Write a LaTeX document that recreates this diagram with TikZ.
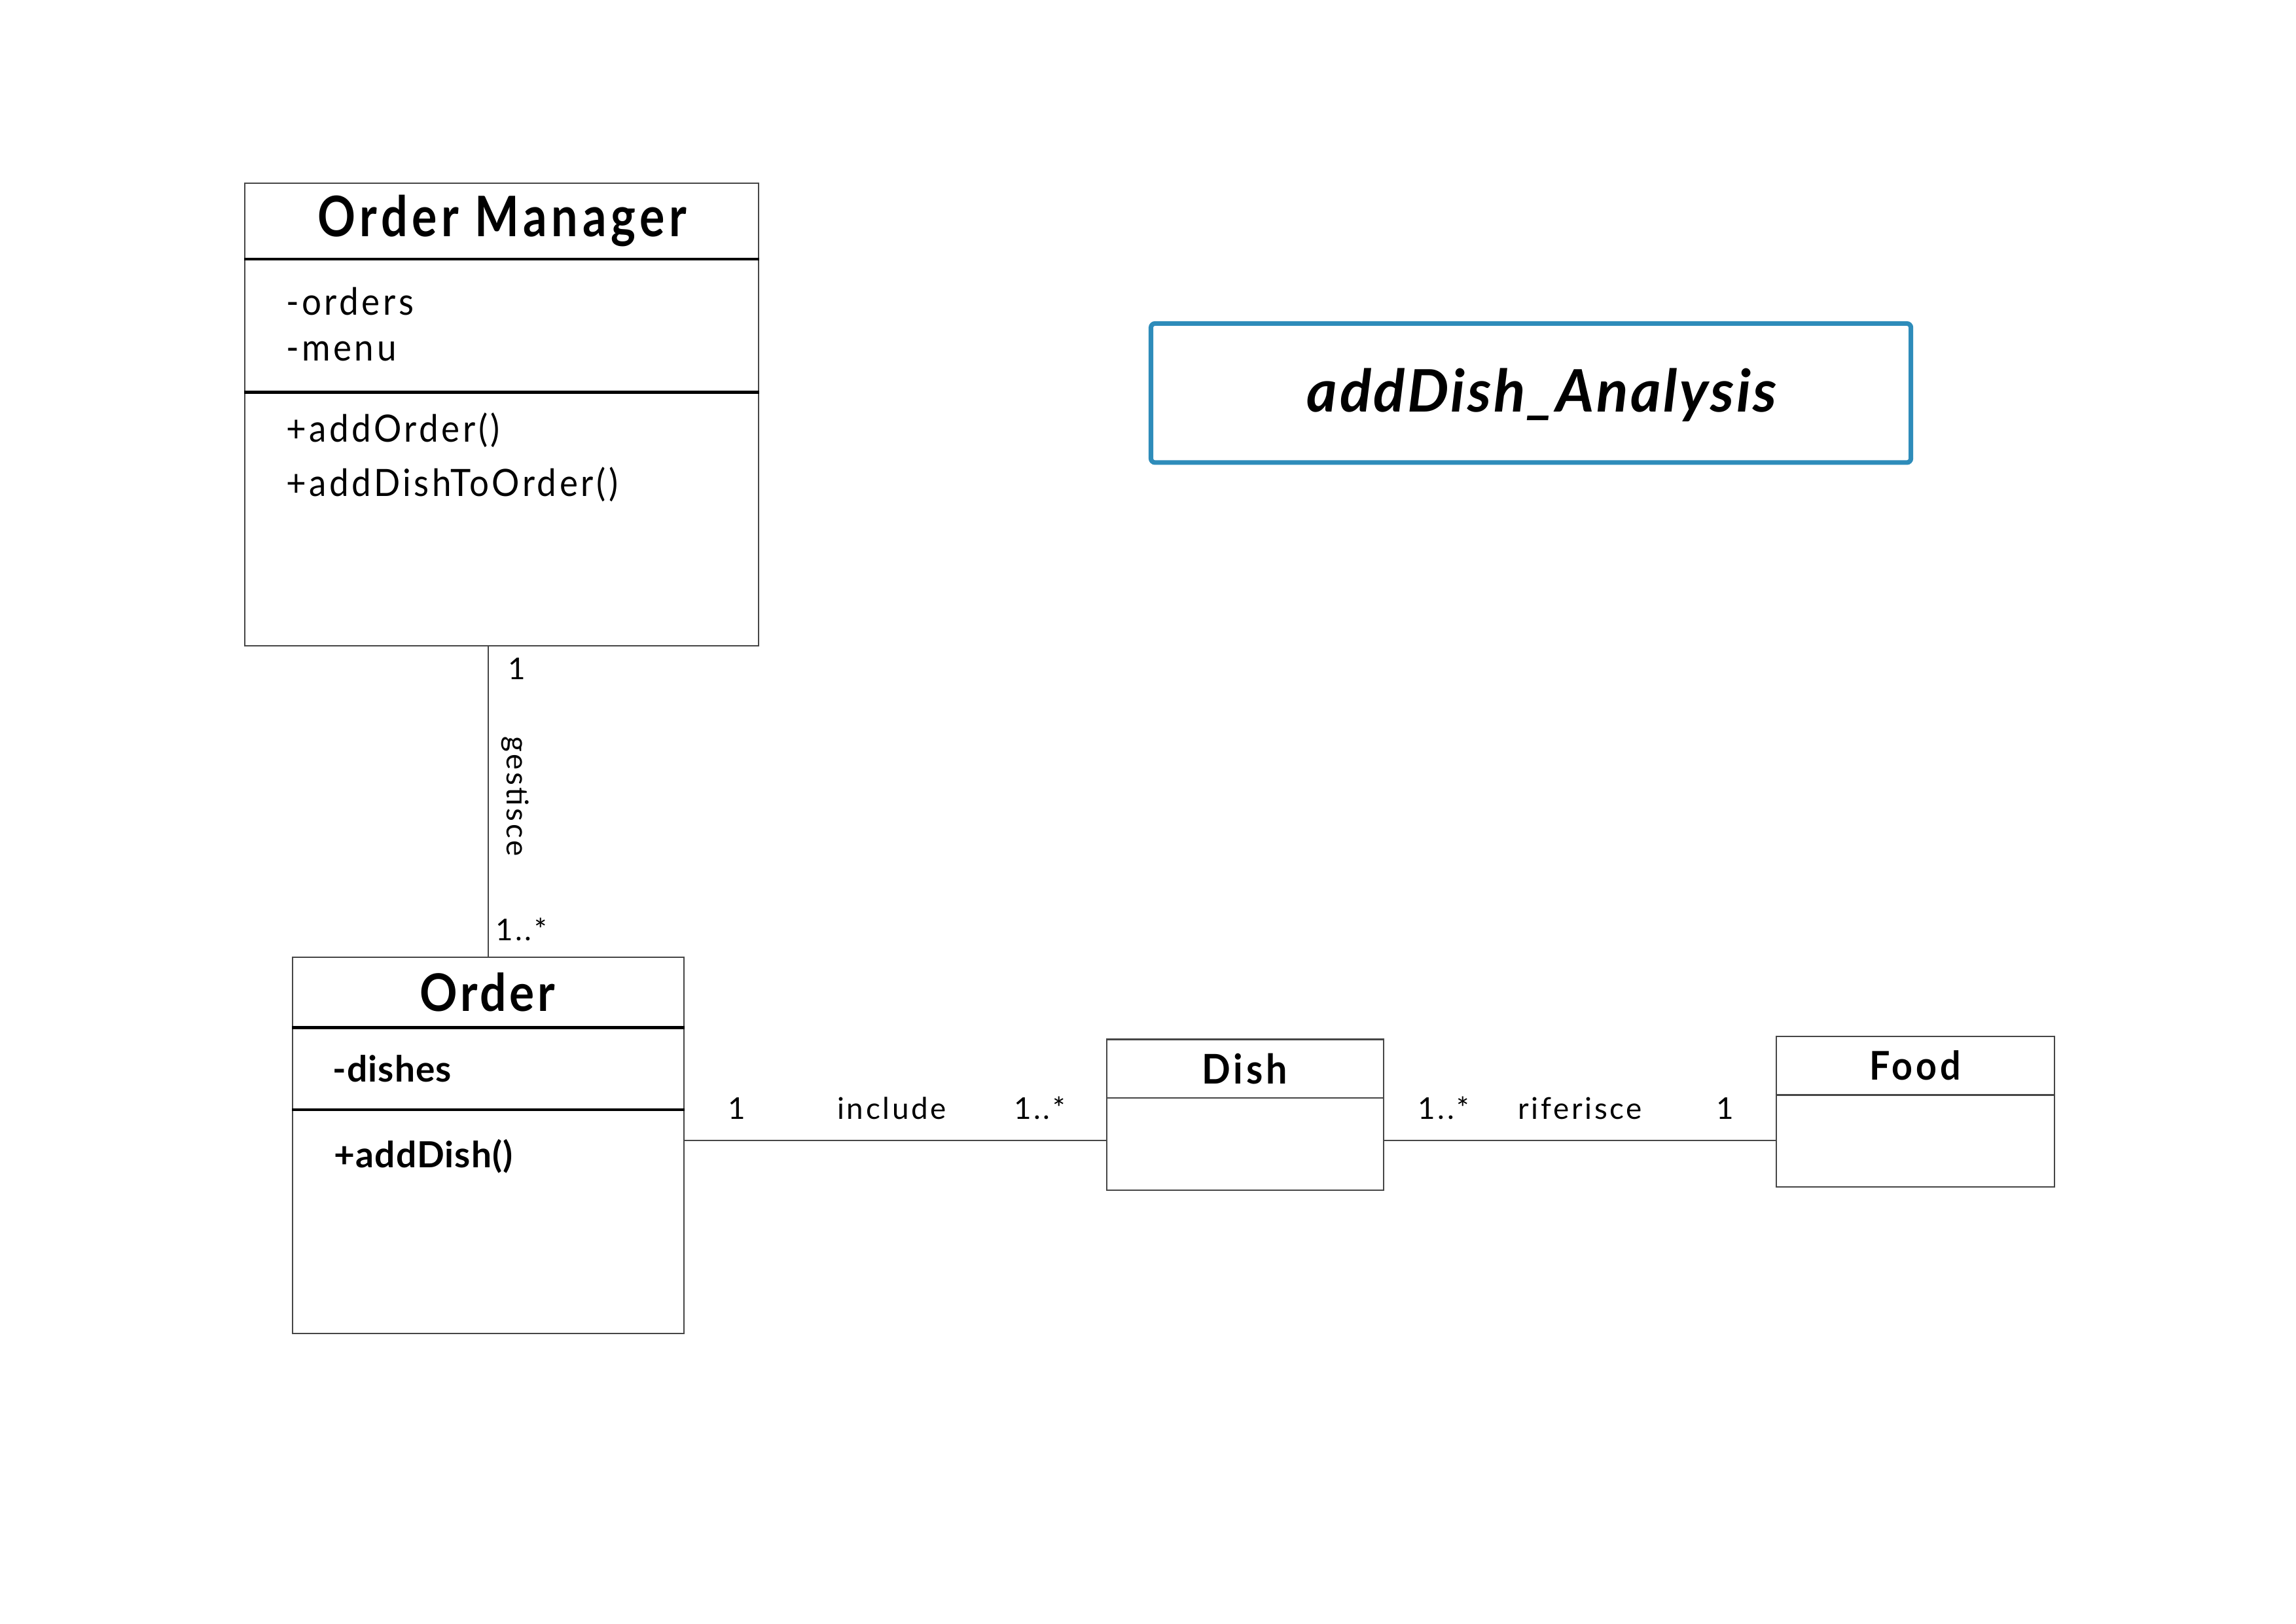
\documentclass[tikz,border=0pt]{standalone}
\usepackage{fontspec}
\setmainfont{Lato}
\newfontfamily\spaced[LetterSpace=8]{Lato}
\newfontfamily\tight[LetterSpace=2]{Lato}
\newfontfamily\narrow[LetterSpace=8,FakeStretch=0.84]{Lato}
\newfontfamily\slim[LetterSpace=8,FakeStretch=0.92]{Lato}
\newfontfamily\heading[LetterSpace=6,FakeStretch=0.9]{Lato}
\usetikzlibrary{calc}
\definecolor{framecol}{RGB}{46,140,186}
\definecolor{edgecol}{RGB}{70,70,70}

\tikzset{
  classbox/.style={draw=edgecol, line width=0.5pt, inner sep=0pt, fill=white},
  divider/.style={line width=1.1pt, black},
  thindiv/.style={line width=0.5pt, edgecol},
  assoc/.style={line width=0.5pt, edgecol},
  member/.style={anchor=west, inner sep=0pt},
  mult/.style={inner sep=0pt, font=\spaced\fontsize{11}{13}\selectfont},
  titlebox/.style={draw=framecol, line width=1.7pt, rounded corners=1.5pt, inner sep=0pt},
}

\begin{document}
\begin{tikzpicture}[x=0.53699pt, y=-0.53699pt]
  \useasboundingbox (0,0) rectangle (1568,1109);

  % title frame
  \node[titlebox, minimum width=278.7pt, minimum height=51pt] (title) at (1045.5,268.5) {};
  \node[inner sep=0pt, font=\fontsize{21.5}{25}\selectfont\bfseries\itshape\addfontfeatures{LetterSpace=4}] (titletext) at (1053,270) {addDish\_Analysis};

  % classes
  \node[classbox, minimum width=188.5pt, minimum height=169.7pt] (om) at (342.5,283) {};
  \node[classbox, minimum width=143.4pt, minimum height=138pt] (order) at (333.5,782.5) {};
  \node[classbox, minimum width=101.5pt, minimum height=55.3pt] (dish) at (850.5,761.5) {};
  \node[classbox, minimum width=102pt, minimum height=55.3pt] (food) at (1308,759.5) {};

  % compartment dividers
  \coordinate (omA) at (0,177);
  \coordinate (omB) at (0,268);
  \coordinate (orA) at (0,702);
  \coordinate (orB) at (0,758);
  \coordinate (diA) at (0,750);
  \coordinate (foA) at (0,748);
  \draw[divider] (om.west |- omA) -- (om.east |- omA);
  \draw[divider] (om.west |- omB) -- (om.east |- omB);
  \draw[divider] (order.west |- orA) -- (order.east |- orA);
  \draw[divider] (order.west |- orB) -- (order.east |- orB);
  \draw[thindiv] (dish.west |- diA) -- (dish.east |- diA);
  \draw[thindiv] (food.west |- foA) -- (food.east |- foA);

  % class names
  \node[inner sep=0pt, font=\narrow\bfseries\fontsize{20.5}{24}\selectfont] (omname) at (343,151) {Order Manager};
  \node[inner sep=0pt, font=\heading\bfseries\fontsize{19}{23}\selectfont] (ordername) at (333,678) {Order};
  \node[inner sep=0pt, font=\slim\bfseries\fontsize{15}{18}\selectfont] (dishname) at (850,730) {Dish};
  \node[inner sep=0pt, font=\slim\bfseries\fontsize{14.5}{18}\selectfont] (foodname) at (1308,728) {Food};

  % members
  \begin{scope}[every node/.append style={font=\slim\fontsize{13.8}{16}\selectfont}]
    \node[member] (m1) at (195,206) {-orders};
    \node[member] (m2) at (195,240) {-menu};
    \node[member] (m3) at (195,294) {+addOrder()};
    \node[member] (m4) at (195,331) {+addDishToOrder()};
  \end{scope}
  \begin{scope}[every node/.append style={font=\tight\bfseries\fontsize{13.2}{16}\selectfont}]
    \node[member] (m5) at (227,730) {-dishes};
    \node[member] (m6) at (228,790) {+addDish()};
  \end{scope}

  % associations
  \coordinate (lane) at (0,779);
  \draw[assoc] (order.north) -- (order.north |- om.south);
  \draw[assoc] (order.east |- lane) -- (dish.west |- lane);
  \draw[assoc] (dish.east |- lane) -- (food.west |- lane);

  % association labels
  \node[mult] (g1) at (353,457) {1};
  \node[mult, rotate=-90] (g2) at (352,544) {gestisce};
  \node[mult] (g3) at (356,635) {1..*};
  \node[mult] (i1) at (503,757) {1};
  \node[mult] (i2) at (609,757) {include};
  \node[mult] (i3) at (710,757) {1..*};
  \node[mult] (r1) at (986,757) {1..*};
  \node[mult] (r2) at (1079,757) {riferisce};
  \node[mult] (r3) at (1178,757) {1};
\end{tikzpicture}
\end{document}
